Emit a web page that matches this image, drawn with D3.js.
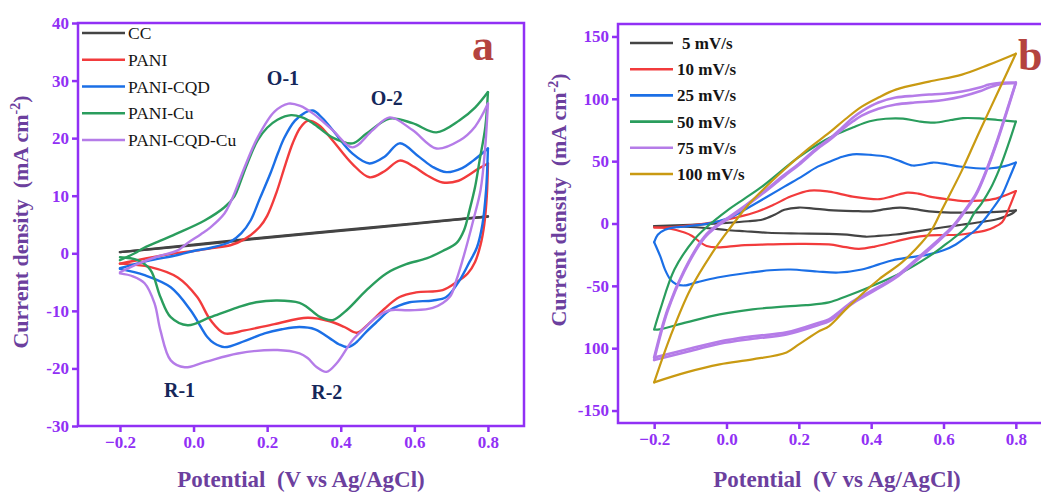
<!DOCTYPE html>
<html>
<head>
<meta charset="utf-8">
<script src="https://cdn.jsdelivr.net/npm/d3@7"></script>
<style>
  body { margin: 0; background: #fff; }
  svg { display: block; font-family: "Liberation Serif", "Times New Roman", serif; }
</style>
</head>
<body>
<script>
// ---- panel a: CV loops at one scan rate, [potential V, current mA/cm2], forward then reverse ----
const cvCC = [[-0.2,0.2],[0.0,1.5],[0.2,2.8],[0.4,4.0],[0.6,5.2],[0.8,6.4],[0.6,5.1],[0.4,3.9],[0.2,2.7],[0.0,1.4],[-0.2,0.2]];
const cvPANI = [[-0.2,-1.8],[-0.13,-0.9],[-0.05,0.0],[0.0,0.4],[0.05,0.9],[0.1,1.4],[0.14,2.5],[0.18,4.6],[0.2,6.5],[0.225,10.5],[0.25,15.5],[0.27,19.2],[0.29,21.8],[0.31,23.0],[0.34,22.3],[0.378,19.6],[0.432,15.5],[0.478,13.2],[0.52,14.3],[0.56,16.1],[0.6,15.0],[0.633,13.6],[0.677,12.3],[0.72,12.6],[0.777,14.8],[0.8,15.6],
  [0.797,10],[0.79,5],[0.78,1.5],[0.765,-1.5],[0.745,-3.5],[0.715,-5],[0.677,-6.4],[0.605,-6.8],[0.56,-7.6],[0.514,-9.9],[0.475,-12.3],[0.443,-13.8],[0.41,-12.8],[0.37,-11.8],[0.31,-11.2],[0.22,-12.3],[0.139,-13.4],[0.084,-13.9],[0.046,-11.6],[0.01,-7.6],[-0.043,-4.2],[-0.117,-2.4],[-0.2,-1.8]];
const cvPANI_CQD = [[-0.2,-2.6],[-0.13,-1.4],[-0.043,-0.3],[0.0,0.4],[0.05,1.0],[0.1,2.0],[0.13,3.5],[0.155,5.7],[0.18,9.5],[0.209,13.9],[0.23,17.5],[0.247,20.1],[0.275,23],[0.302,24.4],[0.324,24.8],[0.35,23.5],[0.378,21.4],[0.432,17.3],[0.478,15.6],[0.52,16.8],[0.56,19.1],[0.614,16.7],[0.65,15],[0.687,14.1],[0.73,14.8],[0.76,16.1],[0.8,18.2],
  [0.795,11],[0.785,5],[0.77,1],[0.75,-1.5],[0.72,-5],[0.687,-7.6],[0.65,-8.2],[0.587,-8.5],[0.533,-9.9],[0.5,-11.8],[0.47,-13.6],[0.44,-15.6],[0.419,-16.3],[0.395,-15.8],[0.378,-15.1],[0.33,-13.2],[0.288,-12.8],[0.24,-13.2],[0.193,-13.9],[0.14,-15.2],[0.084,-16.3],[0.055,-15.6],[0.038,-14.6],[-0.008,-9.9],[-0.062,-5.9],[-0.133,-3.8],[-0.2,-2.7]];
const cvPANI_Cu = [[-0.2,-1.2],[-0.16,0.0],[-0.133,1.0],[-0.09,2.2],[-0.043,3.5],[0.03,5.7],[0.084,8.0],[0.111,9.9],[0.125,12],[0.139,14.4],[0.155,17],[0.174,19.6],[0.2,21.8],[0.228,23.2],[0.265,24.0],[0.295,23.6],[0.324,22.6],[0.378,20.1],[0.432,19.1],[0.47,20.8],[0.533,23.4],[0.595,22.6],[0.66,21.0],[0.723,23.1],[0.765,25.3],[0.8,28.0],
  [0.793,22],[0.777,16],[0.765,11.5],[0.75,7.5],[0.735,4],[0.715,1.8],[0.677,0.4],[0.633,-0.9],[0.578,-1.9],[0.524,-3.5],[0.47,-6.4],[0.416,-9.9],[0.378,-11.6],[0.342,-11.0],[0.31,-9.4],[0.288,-8.6],[0.228,-8.2],[0.17,-8.5],[0.12,-9.4],[0.046,-11.1],[-0.016,-12.5],[-0.062,-11.1],[-0.09,-7.6],[-0.117,-2.9],[-0.152,-1.2],[-0.2,-0.7]];
const cvPANI_CQD_Cu = [[-0.2,-3.3],[-0.15,-1.8],[-0.1,-0.6],[-0.043,0.5],[-0.016,1.8],[0.02,3.3],[0.046,4.5],[0.084,6.9],[0.1,8.8],[0.111,10.4],[0.139,15.0],[0.174,20.1],[0.22,24.6],[0.258,26.0],[0.29,25.6],[0.324,24.3],[0.378,21.4],[0.432,18.4],[0.487,21.4],[0.533,23.6],[0.595,21.4],[0.66,18.2],[0.723,19.6],[0.765,22],[0.8,26.0],
  [0.792,18],[0.78,11],[0.76,5.7],[0.745,2],[0.731,-1.2],[0.715,-4.5],[0.696,-7.6],[0.65,-9.5],[0.587,-9.9],[0.533,-9.9],[0.497,-11.1],[0.465,-13],[0.432,-15.1],[0.389,-19.1],[0.361,-20.6],[0.335,-19.8],[0.31,-18.2],[0.288,-17.4],[0.228,-16.8],[0.12,-17.4],[0.03,-18.9],[-0.024,-19.8],[-0.062,-18.6],[-0.09,-13.4],[-0.106,-8.7],[-0.133,-5.2],[-0.165,-4.0],[-0.2,-3.5]];

const samplesA = ["CC", "PANI", "PANI-CQD", "PANI-Cu", "PANI-CQD-Cu"];
const ticksAx = [-0.2, 0.0, 0.2, 0.4, 0.6, 0.8];
const ticksAy = [-30, -20, -10, 0, 10, 20, 30, 40];
const labelsAy = ["-30", "-20", "-10", "0", "10", "20", "30", "40"];
const peakLabels = ["O-1", "O-2", "R-1", "R-2"];
const peakPos = [[0.243, 29.2], [0.525, 25.8], [-0.038, -25.0], [0.362, -25.3]];

// ---- panel b: PANI-CQD-Cu at different scan rates ----
const cv5 = [[-0.2,-2],[-0.1,-1],[0.0,0.5],[0.06,1.8],[0.1,3.2],[0.133,7],[0.16,11],[0.2,12.8],[0.24,12],[0.283,10.8],[0.35,10],[0.4,9.8],[0.44,11.5],[0.48,12.8],[0.52,11.5],[0.56,9.8],[0.62,8.8],[0.7,9],[0.76,9.6],[0.8,10.5],
  [0.79,8],[0.77,5.5],[0.745,3.2],[0.7,1],[0.65,-1],[0.6,-3],[0.56,-4.8],[0.5,-7.5],[0.468,-8.8],[0.42,-10],[0.385,-10.6],[0.35,-9.5],[0.319,-8.8],[0.283,-8.4],[0.2,-8.0],[0.114,-7.4],[0.05,-6.2],[0.0,-5.2],[-0.05,-3.8],[-0.116,-2.6],[-0.2,-2]];
const cv10 = [[-0.2,-3.2],[-0.15,-2.8],[-0.1,-1.5],[-0.025,1.6],[0.03,5],[0.086,9.6],[0.13,15],[0.177,21.6],[0.23,26.4],[0.283,25.6],[0.349,21.6],[0.424,19.5],[0.46,22],[0.5,24.8],[0.53,24],[0.562,21.6],[0.61,19.5],[0.654,18],[0.7,18.3],[0.745,20],[0.8,26],
  [0.785,15],[0.775,8],[0.762,1],[0.74,-3],[0.717,-5.5],[0.68,-7.5],[0.65,-8.8],[0.6,-9.3],[0.56,-9.6],[0.51,-11.5],[0.468,-14.4],[0.41,-18.5],[0.366,-20.3],[0.33,-19],[0.283,-16.8],[0.2,-16.3],[0.114,-16.8],[0.04,-17.5],[-0.025,-19.2],[-0.055,-18],[-0.072,-15.2],[-0.095,-10],[-0.116,-7.2],[-0.163,-3.8],[-0.2,-3.2]];
const cv25 = [[-0.2,-15],[-0.19,-9],[-0.17,-5],[-0.14,-3],[-0.116,-2.4],[-0.06,-0.5],[-0.025,1.6],[0.02,6],[0.066,13.6],[0.11,21],[0.16,29.6],[0.21,38],[0.252,45.6],[0.285,49.6],[0.32,53.5],[0.349,55.5],[0.4,55],[0.443,53.5],[0.48,50],[0.515,46.5],[0.545,47.5],[0.571,48.9],[0.61,47.5],[0.645,45.7],[0.69,44.3],[0.726,44.1],[0.77,46],[0.8,48.9],
  [0.78,35],[0.76,22],[0.734,11.2],[0.71,2],[0.69,-4.8],[0.66,-11.5],[0.634,-16.8],[0.6,-21.5],[0.56,-24.8],[0.504,-27.2],[0.46,-29.5],[0.421,-32.8],[0.374,-36.9],[0.31,-39.3],[0.25,-38.5],[0.177,-36.9],[0.12,-37.5],[0.066,-39.3],[-0.025,-43.3],[-0.08,-47],[-0.116,-49.7],[-0.14,-48.5],[-0.155,-45],[-0.17,-37],[-0.183,-26.4],[-0.2,-15]];
const cv50 = [[-0.2,-85],[-0.183,-68.9],[-0.144,-36.9],[-0.089,-12.8],[-0.053,-2.4],[0.0,10],[0.05,20],[0.1,30],[0.194,52],[0.25,63],[0.3,71],[0.349,77],[0.396,82],[0.44,84],[0.488,84.1],[0.53,82],[0.575,80.9],[0.62,83],[0.654,84.5],[0.7,84.3],[0.75,83],[0.8,81.7],
  [0.78,64],[0.755,44],[0.73,28],[0.705,16],[0.684,8],[0.662,-3],[0.634,-10.4],[0.6,-18],[0.56,-26.4],[0.485,-39.3],[0.393,-51.3],[0.33,-58.5],[0.283,-63.3],[0.22,-65.5],[0.166,-66.5],[0.072,-68.9],[-0.019,-72.9],[-0.111,-79.3],[-0.186,-84.9],[-0.2,-85]];
const cv75 = [[-0.2,-107.4],[-0.163,-68.9],[-0.116,-36.9],[-0.061,-10.4],[-0.025,-1],[0.011,6],[0.05,14],[0.1,25],[0.16,39],[0.2,48],[0.252,61],[0.285,68],[0.32,77],[0.35,85],[0.374,90],[0.42,97],[0.468,101],[0.52,102.5],[0.56,103.4],[0.6,104],[0.651,105.8],[0.7,109],[0.726,111.4],[0.76,112.8],[0.8,113],
  [0.78,95],[0.75,68],[0.72,44],[0.69,24],[0.66,11],[0.64,3],[0.623,-3],[0.587,-12.8],[0.524,-28.8],[0.468,-42.5],[0.393,-55.3],[0.349,-62.5],[0.283,-76.9],[0.258,-79.3],[0.166,-87.3],[0.072,-90.5],[-0.019,-94.6],[-0.111,-101],[-0.2,-107.4]];
const cv75second = [[-0.2,-109.5],[-0.163,-70.5],[-0.116,-38],[-0.061,-11.5],[-0.025,-2],[0.011,5],[0.05,13],[0.1,24],[0.16,38],[0.2,47],[0.252,60],[0.285,67],[0.32,75.5],[0.35,82],[0.374,86.5],[0.42,92],[0.468,95.4],[0.52,97],[0.56,97.8],[0.6,99],[0.651,101.8],[0.7,106],[0.726,109],[0.76,112],[0.8,112.5],
  [0.78,94],[0.75,67],[0.72,43],[0.69,23],[0.66,10],[0.64,2],[0.623,-4],[0.587,-14],[0.524,-30],[0.468,-43.5],[0.393,-56.5],[0.349,-64],[0.283,-78.5],[0.258,-81],[0.166,-89],[0.072,-92.5],[-0.019,-96.5],[-0.111,-103],[-0.2,-109.5]];
const cv100 = [[-0.2,-127.4],[-0.155,-90.5],[-0.1,-52.9],[-0.033,-20.8],[0.011,-3.2],[0.03,4],[0.066,16.8],[0.16,43.3],[0.22,58.5],[0.285,73],[0.33,84],[0.374,93.7],[0.42,101],[0.468,107.4],[0.56,113.8],[0.651,119.4],[0.726,127.4],[0.8,136.2],
  [0.75,105],[0.7,74],[0.65,42],[0.596,11.2],[0.568,-4.8],[0.54,-15.2],[0.485,-31.2],[0.421,-44.9],[0.338,-66.5],[0.283,-82.5],[0.258,-86],[0.2,-97],[0.166,-103.4],[0.072,-109],[-0.019,-113],[-0.111,-119.4],[-0.2,-127.4]];

const ratesB = ["5 mV/s", "10 mV/s", "25 mV/s", "50 mV/s", "75 mV/s", "100 mV/s"];
const ticksBx = [-0.2, 0.0, 0.2, 0.4, 0.6, 0.8];
const ticksBy = [-150, -100, -50, 0, 50, 100, 150];
const labelsBy = ["-150", "100", "-50", "0", "50", "100", "150"];

// ---- styles ----
const axisPurple = "#9130f5";
const titlePurple = "#6c3f9e";
const colorsA = ["#444444", "#f23b3c", "#1b6fe6", "#2a9d5d", "#b57ce8"];
const colorsB = ["#444444", "#f23b3c", "#1b6fe6", "#2a9d5d", "#b57ce8", "#c99a12"];

const svg = d3.select("body").append("svg").attr("width", 1041).attr("height", 492);

function drawPanel(o) {
  const x = d3.scaleLinear().domain(o.xDomain).range(o.xRange);
  const y = d3.scaleLinear().domain(o.yDomain).range(o.yRange);
  const g = svg.append("g");

  svg.append("clipPath").attr("id", "clip" + o.id)
    .append("rect")
    .attr("x", o.xRange[0]).attr("y", o.yRange[1])
    .attr("width", o.xRange[1] - o.xRange[0]).attr("height", o.yRange[0] - o.yRange[1]);

  const line = d3.line().x(d => x(d[0])).y(d => y(d[1])).curve(d3.curveCatmullRom.alpha(0.5));
  const curves = g.append("g").attr("clip-path", `url(#clip${o.id})`);

  o.loops.forEach((loop, i) => {
    // split the loop at the vertex potential so both corners stay sharp
    const turn = d3.maxIndex(loop, d => d[0]);
    [loop.slice(0, turn + 1), loop.slice(turn)].forEach(branch => {
      curves.append("path")
        .attr("d", line(branch))
        .attr("fill", "none")
        .attr("stroke", o.loopColors[i])
        .attr("stroke-width", o.loopWidths[i])
        .attr("stroke-linejoin", "round")
        .attr("stroke-linecap", "round");
    });
  });

  // axes
  const xAxis = d3.axisBottom(x).tickValues(o.xTicks).tickFormat(d3.format(".1f"))
    .tickSize(6).tickPadding(4).tickSizeOuter(0);
  const yAxis = d3.axisLeft(y).tickValues(o.yTicks).tickFormat((d, i) => o.yLabels[i])
    .tickSize(6).tickPadding(3).tickSizeOuter(0);

  const gx = g.append("g").attr("transform", `translate(0,${o.yRange[0]})`).call(xAxis);
  const gy = g.append("g").attr("transform", `translate(${o.xRange[0]},0)`).call(yAxis);
  [gx, gy].forEach(a => {
    a.select(".domain").remove();
    a.selectAll(".tick line").attr("stroke", axisPurple).attr("stroke-width", 2.5);
    a.selectAll(".tick text")
      .attr("fill", axisPurple)
      .attr("font-family", "Liberation Serif, serif")
      .attr("font-weight", "bold")
      .attr("font-size", 17);
  });

  g.append("rect")
    .attr("x", o.xRange[0]).attr("y", o.yRange[1])
    .attr("width", o.xRange[1] - o.xRange[0]).attr("height", o.yRange[0] - o.yRange[1])
    .attr("fill", "none").attr("stroke", axisPurple).attr("stroke-width", 2.5);

  // axis titles
  g.append("text")
    .attr("x", o.xTitlePos[0]).attr("y", o.xTitlePos[1])
    .attr("text-anchor", "middle")
    .attr("fill", titlePurple).attr("font-weight", "bold").attr("font-size", 23)
    .style("white-space", "pre")
    .text("Potential  (V vs Ag/AgCl)");

  const yt = g.append("text")
    .attr("transform", `translate(${o.yTitlePos[0]},${o.yTitlePos[1]}) rotate(-90)`)
    .attr("text-anchor", "middle")
    .attr("fill", titlePurple).attr("font-weight", "bold").attr("font-size", 22)
    .style("white-space", "pre");
  yt.append("tspan").text("Current density  (mA cm");
  yt.append("tspan").attr("font-size", 14).attr("dy", -8).text("-2");
  yt.append("tspan").attr("dy", 8).text(")");

  // legend
  const leg = g.append("g");
  o.names.forEach((name, i) => {
    const ly = o.legend.y + i * o.legend.dy;
    leg.append("line")
      .attr("x1", o.legend.x1).attr("x2", o.legend.x2)
      .attr("y1", ly).attr("y2", ly)
      .attr("stroke", o.legendColors[i]).attr("stroke-width", o.legend.width);
    leg.append("text")
      .attr("x", o.legend.tx + (name.length < 7 && o.legend.pad ? o.legend.pad : 0)).attr("y", ly).attr("dy", "0.35em")
      .attr("fill", "#151515")
      .attr("font-weight", o.legend.weight).attr("font-size", o.legend.size)
      .text(name);
  });

  // panel letter
  g.append("text")
    .attr("x", o.letterPos[0]).attr("y", o.letterPos[1])
    .attr("fill", "#b4433e").attr("font-weight", "bold").attr("font-size", 44)
    .text(o.letter);

  return { x, y, g };
}

const pa = drawPanel({
  id: "a",
  xDomain: [-0.314, 0.898], xRange: [78, 524],
  yDomain: [-30, 40], yRange: [426, 23],
  xTicks: ticksAx, yTicks: ticksAy, yLabels: labelsAy,
  loops: [cvCC, cvPANI, cvPANI_CQD, cvPANI_Cu, cvPANI_CQD_Cu],
  loopColors: colorsA, loopWidths: [2.4, 2.4, 2.4, 2.4, 2.4],
  names: samplesA, legendColors: colorsA,
  legend: { x1: 82, x2: 125, tx: 128, y: 33, dy: 26.75, size: 17.5, weight: "normal", width: 2.6 },
  xTitlePos: [301, 487], yTitlePos: [28, 222],
  letter: "a", letterPos: [472, 60]
});

// peak labels in panel a
pa.g.selectAll(".peak").data(peakLabels).join("text")
  .attr("class", "peak")
  .attr("x", (d, i) => pa.x(peakPos[i][0]))
  .attr("y", (d, i) => pa.y(peakPos[i][1]))
  .attr("text-anchor", "middle")
  .attr("fill", "#15275a").attr("font-weight", "bold").attr("font-size", 20)
  .text(d => d);

drawPanel({
  id: "b",
  xDomain: [-0.3, 0.9], xRange: [618, 1052],
  yDomain: [-160, 160], yRange: [423, 24],
  xTicks: ticksBx, yTicks: ticksBy, yLabels: labelsBy,
  loops: [cv5, cv10, cv25, cv50, cv75, cv75second, cv100],
  loopColors: [colorsB[0], colorsB[1], colorsB[2], colorsB[3], colorsB[4], colorsB[4], colorsB[5]],
  loopWidths: [2.2, 2.2, 2.2, 2.2, 2.6, 2.6, 2.2],
  names: ratesB, legendColors: colorsB,
  legend: { x1: 630, x2: 673, tx: 677, pad: 5, y: 43, dy: 26.2, size: 17, weight: "bold", width: 2.6 },
  xTitlePos: [837, 487], yTitlePos: [566, 200],
  letter: "b", letterPos: [1018, 70]
});
</script>
</body>
</html>
